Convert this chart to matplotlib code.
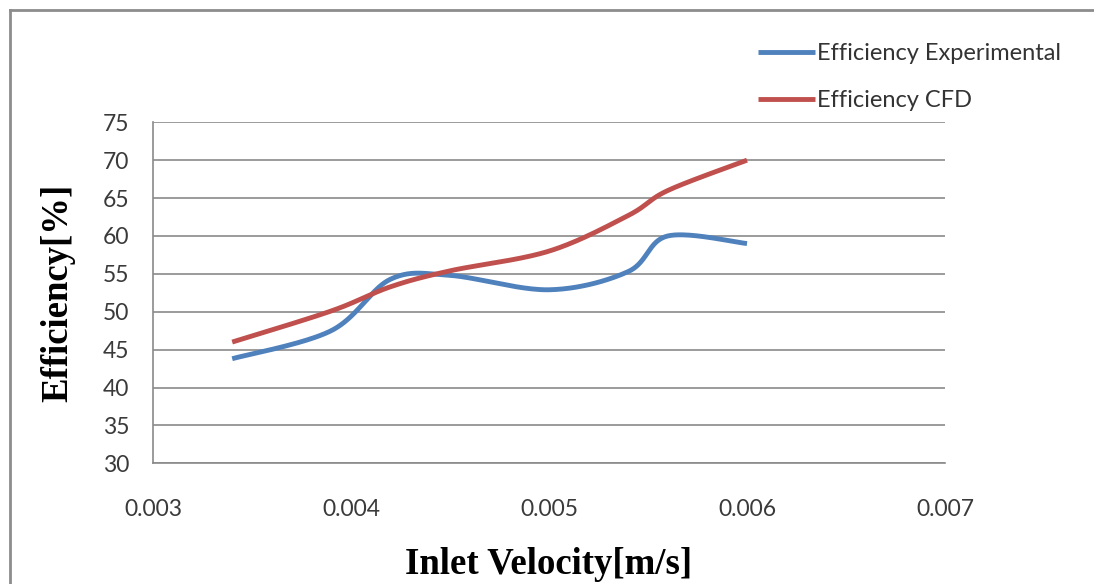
import numpy as np
import matplotlib
matplotlib.use("Agg")
import matplotlib.pyplot as plt
from matplotlib.lines import Line2D

# Data
velocity = [0.0034, 0.0039, 0.0042, 0.0045, 0.0050, 0.0054, 0.0056, 0.0060]
eff_experimental = [43.8, 47.5, 54.3, 54.8, 52.9, 55.3, 60.0, 59.0]
eff_cfd = [46.0, 50.1, 53.3, 55.4, 58.0, 62.7, 66.0, 70.0]
series_names = ["Efficiency Experimental", "Efficiency CFD"]
x_ticks = [0.003, 0.004, 0.005, 0.006, 0.007]
x_tick_labels = ["0.003", "0.004", "0.005", "0.006", "0.007"]
y_ticks = [30, 35, 40, 45, 50, 55, 60, 65, 70, 75]


def smooth(xs, ys, n=40):
    """Excel-like smoothed line: Catmull-Rom style cubic Bezier between points."""
    xs = np.asarray(xs, float)
    ys = np.asarray(ys, float)
    sx = (xs - xs.min()) / (xs.max() - xs.min())
    sy = (ys - ys.min()) / (ys.max() - ys.min())
    P = np.column_stack([sx, sy])
    out = []
    t = np.linspace(0, 1, n)
    for i in range(len(P) - 1):
        p0 = P[i - 1] if i > 0 else P[i]
        p1 = P[i]
        p2 = P[i + 1]
        p3 = P[i + 2] if i + 2 < len(P) else P[i + 1]
        c1 = p1 + (p2 - p0) / 6.0
        c2 = p2 - (p3 - p1) / 6.0
        seg = ((1 - t)[:, None] ** 3 * p1 + 3 * ((1 - t) ** 2 * t)[:, None] * c1
               + 3 * ((1 - t) * t ** 2)[:, None] * c2 + (t ** 3)[:, None] * p2)
        out.append(seg if i == 0 else seg[1:])
    out = np.vstack(out)
    rx = out[:, 0] * (xs.max() - xs.min()) + xs.min()
    ry = out[:, 1] * (ys.max() - ys.min()) + ys.min()
    return rx, ry


W, H = 1094, 584
fig = plt.figure(figsize=(W / 100, H / 100), dpi=100)
fig.patch.set_facecolor("white")

# outer chart frame (top and left edges visible)
fx, fy = 10 / W, 1 - 10 / H
fig.lines.append(Line2D([fx, 1.0], [fy, fy], transform=fig.transFigure,
                        color="#8c8c8c", linewidth=2.0))
fig.lines.append(Line2D([fx, fx], [0.0, fy], transform=fig.transFigure,
                        color="#8c8c8c", linewidth=2.0))

ax = fig.add_axes([153 / W, 1 - 463.3 / H, (945 - 153) / W, (463.3 - 122.3) / H])

colors = ["#4F81BD", "#C0504D"]
for ys, name, c in zip([eff_experimental, eff_cfd], series_names, colors):
    sx, sy = smooth(velocity, ys)
    ax.plot(sx, sy, color=c, linewidth=3.5, solid_capstyle="butt", label=name, zorder=3)

ax.set_xlim(0.003, 0.007)
ax.set_ylim(30, 75)
ax.set_xticks(x_ticks)
ax.set_xticklabels(x_tick_labels)
ax.set_yticks(y_ticks)
ax.yaxis.grid(True, color="#8a8a8a", linewidth=1.2)
ax.set_axisbelow(True)
for s in ["top", "right"]:
    ax.spines[s].set_visible(False)
for s in ["left", "bottom"]:
    ax.spines[s].set_color("#8a8a8a")
    ax.spines[s].set_linewidth(1.2)
ax.tick_params(axis="both", length=0, labelsize=16.5, labelcolor="#3a3a3a")
ax.tick_params(axis="x", pad=26)
ax.tick_params(axis="y", pad=17)
for lab in ax.get_xticklabels() + ax.get_yticklabels():
    lab.set_family("Lato")

ax.set_xlabel("Inlet Velocity[m/s]", family="Liberation Serif", fontweight="bold",
              fontsize=26.5, labelpad=19)
ax.set_ylabel("Efficiency[%]", family="Liberation Serif", fontweight="bold",
              fontsize=26.5, labelpad=20)

leg = fig.legend(loc="upper left", bbox_to_anchor=(749 / W, 1 - 34 / H),
                 frameon=False, prop={"family": "Lato", "size": 17},
                 handlelength=2.4, handletextpad=0.1, labelspacing=1.1,
                 borderaxespad=0)
for t in leg.get_texts():
    t.set_color("#333333")
for h in leg.get_lines():
    h.set_linewidth(3.5)

fig.savefig("out.png", dpi=100, facecolor="white")
